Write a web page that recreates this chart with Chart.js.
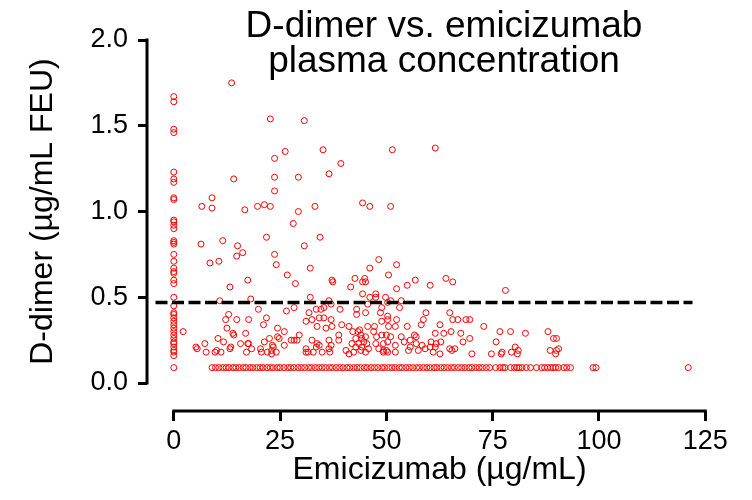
<!DOCTYPE html>
<html>
<head>
<meta charset="utf-8">
<title>D-dimer vs. emicizumab plasma concentration</title>
<script src="https://cdn.jsdelivr.net/npm/chart.js@4.4.1/dist/chart.umd.min.js"></script>
<style>
  html, body { margin: 0; padding: 0; background: #fff; }
</style>
</head>
<body>
<canvas id="dimerChart" width="752" height="500"></canvas>
<script>
// D-dimer (µg/mL FEU) against emicizumab plasma level (µg/mL)

// samples with no measurable emicizumab
const zeroDoseDimer = [1.67, 1.64, 1.48, 1.46, 1.23, 1.19, 1.17, 1.08, 1.07, 0.95,
  0.94, 0.92, 0.90, 0.83, 0.82, 0.81, 0.75, 0.71, 0.67, 0.65, 0.64, 0.60, 0.58,
  0.50, 0.45, 0.41, 0.40, 0.38, 0.36, 0.34, 0.32, 0.30, 0.28, 0.26, 0.24, 0.23,
  0.21, 0.19, 0.18, 0.16, 0.09];

// D-dimer at the assay floor
const assayFloor = 0.09;
const floorEmicizumab = [9.0, 9.8, 10.6, 11.5, 12.3, 13.0, 13.9, 14.6, 15.4, 16.3,
  17.0, 17.9, 18.6, 19.5, 20.3, 21.0, 21.9, 22.7, 23.4, 24.3, 25.0, 25.9, 26.8,
  27.5, 28.3, 29.2, 30.0, 30.8, 31.7, 32.4, 33.3, 34.1, 34.9, 35.7, 36.6, 37.3,
  38.2, 39.0, 39.8, 40.7, 41.4, 42.3, 43.1, 43.9, 44.8, 45.5, 46.4, 47.2, 48.0,
  48.9, 49.6, 50.5, 51.3, 52.1, 53.0, 53.7, 54.6, 55.4, 56.2, 57.1, 57.8, 58.7,
  59.5, 60.3, 61.2, 61.9, 62.8, 63.6, 64.4, 65.3, 66.0, 66.9, 67.7, 68.5, 69.4,
  70.1, 71.0, 71.8, 72.6, 73.5, 74.3, 75.7, 76.7, 77.4, 77.9, 79.2, 80.1, 80.7,
  81.2, 81.9, 82.9, 83.9, 85.3, 86.5, 87.2, 87.9, 88.6, 89.2, 89.8, 90.5, 91.7,
  92.4, 93.3, 98.6, 99.3, 121.0];

// [emicizumab, D-dimer] at or above the cut-off
const aboveCutoff = [
  [13.6, 1.75], [22.7, 1.54], [30.7, 1.53], [26.2, 1.35], [23.7, 1.31], [23.7, 1.20],
  [29.3, 1.20], [23.7, 1.12], [14.1, 1.19], [9.0, 1.08], [35.1, 1.36], [51.4, 1.36],
  [61.5, 1.37], [39.3, 1.28], [36.5, 1.22], [6.6, 1.03], [9.0, 1.02], [16.7, 1.01],
  [19.7, 1.03], [21.3, 1.04], [22.7, 1.03], [29.3, 1.00], [28.1, 0.93], [11.5, 0.83],
  [6.4, 0.81], [15.0, 0.80], [21.8, 0.85], [14.8, 0.74], [16.2, 0.76], [23.7, 0.75],
  [24.1, 0.69], [8.5, 0.70], [10.6, 0.71], [26.7, 0.63], [28.6, 0.58], [30.7, 0.80],
  [13.2, 0.56], [17.4, 0.60], [18.1, 0.49], [10.8, 0.48], [33.2, 1.03], [44.4, 1.05],
  [46.1, 1.03], [51.0, 1.03], [34.4, 0.85], [32.1, 0.67], [37.2, 0.60], [37.4, 0.59],
  [42.6, 0.61], [44.9, 0.61], [44.4, 0.59], [45.1, 0.59], [41.6, 0.56], [46.1, 0.67],
  [48.2, 0.72], [52.4, 0.69], [50.5, 0.63], [52.4, 0.55], [54.9, 0.57], [56.8, 0.60],
  [60.3, 0.57], [64.0, 0.61], [44.4, 0.52], [47.5, 0.52], [47.5, 0.50], [46.1, 0.50],
  [49.8, 0.50], [32.1, 0.50], [36.5, 0.48], [53.5, 0.48], [65.6, 0.59], [78.0, 0.54],
  [50.3, 0.47], [51.0, 0.48]
];

// [emicizumab, D-dimer] below the cut-off
const belowCutoff = [
  [12.9, 0.40], [14.8, 0.37], [12.2, 0.37], [17.6, 0.37], [19.9, 0.43], [21.8, 0.38],
  [21.1, 0.34], [2.2, 0.30], [12.5, 0.32], [13.9, 0.29], [14.1, 0.28], [10.4, 0.26],
  [16.9, 0.29], [11.7, 0.24], [15.7, 0.23], [17.4, 0.23], [17.6, 0.23], [13.4, 0.21],
  [13.2, 0.20], [5.2, 0.21], [5.5, 0.20], [7.3, 0.23], [7.6, 0.18], [9.7, 0.18],
  [10.1, 0.19], [11.1, 0.18], [17.1, 0.18], [18.3, 0.20], [20.4, 0.20], [21.3, 0.24],
  [22.5, 0.26], [20.6, 0.18], [22.0, 0.18], [23.0, 0.19], [23.2, 0.22],
  [26.5, 0.42], [28.3, 0.44], [31.8, 0.41], [33.5, 0.43], [34.6, 0.43], [35.3, 0.44],
  [37.0, 0.46], [39.1, 0.43], [43.0, 0.43], [43.0, 0.40], [45.1, 0.41], [45.6, 0.46],
  [48.9, 0.44], [48.6, 0.41], [50.3, 0.39], [31.1, 0.36], [32.5, 0.37], [34.2, 0.38],
  [35.3, 0.38], [37.0, 0.37], [33.7, 0.33], [35.8, 0.32], [37.2, 0.33], [39.5, 0.34],
  [41.2, 0.33], [42.1, 0.30], [43.7, 0.31], [45.6, 0.33], [47.2, 0.33], [48.9, 0.36],
  [24.4, 0.32], [26.0, 0.30], [24.4, 0.27], [24.8, 0.26], [29.5, 0.28], [29.0, 0.25],
  [27.6, 0.25], [28.3, 0.25], [26.0, 0.22], [23.4, 0.21], [24.1, 0.18], [23.0, 0.17],
  [32.5, 0.25], [33.7, 0.23], [34.2, 0.22], [33.5, 0.21], [31.1, 0.20], [31.1, 0.18],
  [31.6, 0.18], [32.8, 0.18], [34.9, 0.18], [36.5, 0.25], [37.0, 0.22], [36.5, 0.20],
  [36.7, 0.18], [38.8, 0.28], [38.8, 0.25], [40.5, 0.19], [41.2, 0.17], [42.3, 0.18],
  [41.9, 0.23], [42.8, 0.26], [43.3, 0.30], [44.0, 0.28], [44.2, 0.26], [45.1, 0.27],
  [44.7, 0.24], [45.4, 0.23], [43.5, 0.23], [42.8, 0.21], [44.2, 0.21], [45.8, 0.20],
  [44.0, 0.19], [45.1, 0.18], [47.0, 0.30], [47.7, 0.27], [47.5, 0.23], [48.9, 0.28],
  [49.3, 0.23], [48.2, 0.20], [49.3, 0.18], [50.0, 0.19],
  [53.1, 0.44], [59.3, 0.41], [58.7, 0.37], [58.2, 0.34], [64.9, 0.41], [65.6, 0.37],
  [66.8, 0.37], [68.7, 0.37], [69.6, 0.37], [62.6, 0.34], [50.3, 0.37], [52.4, 0.37],
  [52.1, 0.33], [50.5, 0.33], [54.9, 0.33], [72.9, 0.33], [76.7, 0.30], [65.2, 0.30],
  [63.5, 0.29], [67.5, 0.29], [61.5, 0.29], [56.6, 0.28], [57.0, 0.27], [53.5, 0.27],
  [50.0, 0.28], [51.0, 0.27], [69.6, 0.26], [68.0, 0.24], [75.8, 0.24], [50.3, 0.24],
  [52.1, 0.22], [54.2, 0.24], [55.6, 0.25], [57.0, 0.23], [58.4, 0.22], [60.5, 0.24],
  [61.7, 0.23], [62.8, 0.24], [60.3, 0.21], [61.5, 0.21], [59.1, 0.20], [55.6, 0.21],
  [55.2, 0.19], [57.5, 0.19], [49.3, 0.19], [50.3, 0.18], [52.1, 0.18], [61.0, 0.18],
  [62.6, 0.17], [64.9, 0.20], [65.4, 0.19], [66.1, 0.20], [70.1, 0.17], [74.7, 0.17],
  [77.0, 0.17], [79.2, 0.30], [82.7, 0.29], [88.0, 0.30], [89.3, 0.26], [90.0, 0.26],
  [77.2, 0.18], [79.4, 0.18], [80.3, 0.21], [81.0, 0.19], [80.8, 0.17], [88.5, 0.19],
  [90.0, 0.19], [90.5, 0.20], [89.8, 0.17]
];

// cut-off line and its drawn extent
const cutoff = 0.47;
const cutoffFrom = -4.3;
const cutoffTo = 122;

const xTicks = [0, 25, 50, 75, 100, 125];
const yTicks = [0, 0.5, 1.0, 1.5, 2.0];

const titleLines = ['D-dimer vs. emicizumab', 'plasma concentration'];
const xTitle = 'Emicizumab (µg/mL)';
const yTitle = 'D-dimer (µg/mL FEU)';

const FONT = '"Liberation Sans", Arial, Helvetica, sans-serif';

const points = [
  ...zeroDoseDimer.map(v => ({ x: 0, y: v })),
  ...floorEmicizumab.map(v => ({ x: v, y: assayFloor })),
  ...aboveCutoff.concat(belowCutoff).map(([x, y]) => ({ x: x, y: y }))
];

// axes are drawn detached from each other, only over their tick range
const detachedAxes = {
  id: 'detachedAxes',
  afterDraw(chart) {
    const ctx = chart.ctx;
    const xs = chart.scales.x;
    const ys = chart.scales.y;
    const area = chart.chartArea;
    const yTop = ys.getPixelForValue(yTicks[yTicks.length - 1]);
    const yBottom = ys.getPixelForValue(yTicks[0]);
    const xLeft = xs.getPixelForValue(xTicks[0]);
    const xRight = xs.getPixelForValue(xTicks[xTicks.length - 1]);

    ctx.save();
    ctx.strokeStyle = '#000';
    ctx.lineWidth = 3;
    ctx.lineCap = 'butt';
    ctx.beginPath();
    ctx.moveTo(area.left, yTop - 1.5);
    ctx.lineTo(area.left, yBottom + 1.5);
    ctx.moveTo(xLeft - 1.5, area.bottom);
    ctx.lineTo(xRight + 1.5, area.bottom);
    ctx.stroke();

    ctx.fillStyle = '#000';
    ctx.textAlign = 'center';
    ctx.textBaseline = 'middle';

    // chart title
    ctx.font = '37px ' + FONT;
    ctx.fillText(titleLines[0], 444, 27);
    ctx.fillText(titleLines[1], 444, 62);

    // axis titles
    ctx.font = '32px ' + FONT;
    ctx.fillText(xTitle, (xLeft + xRight) / 2, 470);
    ctx.translate(43, (yTop + yBottom) / 2);
    ctx.rotate(-Math.PI / 2);
    ctx.fillText(yTitle, 0, 0);
    ctx.restore();
  }
};

new Chart(document.getElementById('dimerChart'), {
  type: 'scatter',
  data: {
    datasets: [
      {
        type: 'line',
        data: [{ x: cutoffFrom, y: cutoff }, { x: cutoffTo, y: cutoff }],
        borderColor: '#000',
        borderWidth: 3.5,
        borderDash: [12, 4.5],
        pointRadius: 0,
        order: 0
      },
      {
        data: points,
        pointStyle: 'circle',
        pointRadius: 3,
        borderWidth: 1,
        borderColor: '#ff0000',
        backgroundColor: 'rgba(0,0,0,0)',
        order: 1
      }
    ]
  },
  options: {
    responsive: false,
    animation: false,
    events: [],
    layout: { padding: { top: 40, right: 46.7, left: 0, bottom: 0 } },
    plugins: {
      legend: { display: false },
      tooltip: { enabled: false }
    },
    scales: {
      x: {
        type: 'linear',
        min: -6.3,
        max: 125,
        afterBuildTicks: s => { s.ticks = xTicks.map(v => ({ value: v })); },
        afterFit: s => { s.height = 89; },
        border: { display: false },
        grid: { drawOnChartArea: false, drawTicks: true, tickLength: 10, lineWidth: 3, color: '#000' },
        ticks: {
          color: '#000',
          font: { family: FONT, size: 27 },
          padding: 4,
          maxRotation: 0,
          autoSkip: false
        }
      },
      y: {
        type: 'linear',
        min: -0.163,
        max: 2,
        afterBuildTicks: s => { s.ticks = yTicks.map(v => ({ value: v })); },
        afterFit: s => { s.width = 147; },
        border: { display: false },
        grid: { drawOnChartArea: false, drawTicks: true, tickLength: 9, lineWidth: 3, color: '#000' },
        ticks: {
          color: '#000',
          font: { family: FONT, size: 27 },
          padding: 10,
          autoSkip: false,
          callback: v => Number(v).toFixed(1)
        }
      }
    }
  },
  plugins: [detachedAxes]
});
</script>
</body>
</html>
